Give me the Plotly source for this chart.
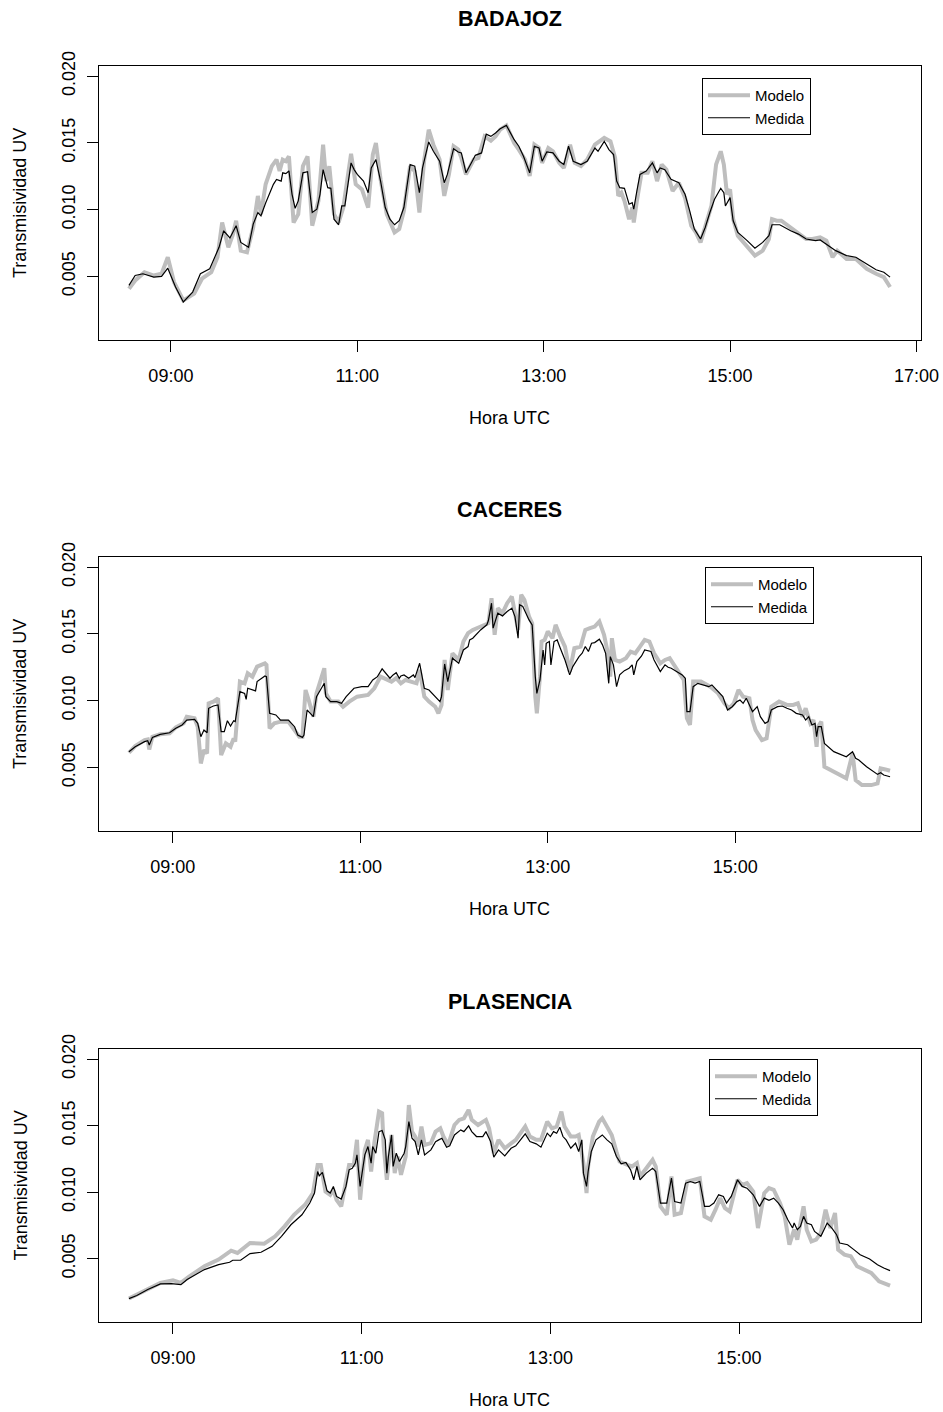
import pandas as pd
import plotly.graph_objects as go

### datos (hora UTC, transmisividad UV)

# BADAJOZ
badajoz_t_medida = [
    "08:33", "08:37", "08:42", "08:49", "08:54", "08:58", "09:03", "09:08", "09:14", "09:19",
    "09:25", "09:31", "09:34", "09:38", "09:42", "09:45", "09:50", "09:53", "09:56", "09:58",
    "10:01", "10:06", "10:08", "10:11", "10:12", "10:14", "10:16", "10:18", "10:20", "10:22",
    "10:25", "10:28", "10:31", "10:34", "10:36", "10:38", "10:41", "10:43", "10:45", "10:48",
    "10:50", "10:52", "10:56", "10:58", "11:00", "11:04", "11:07", "11:09", "11:12", "11:15",
    "11:18", "11:21", "11:24", "11:27", "11:30", "11:34", "11:37", "11:40", "11:42", "11:46",
    "11:49", "11:53", "11:56", "11:58", "12:02", "12:05", "12:07", "12:10", "12:14", "12:16",
    "12:20", "12:23", "12:26", "12:29", "12:32", "12:36", "12:41", "12:44", "12:47", "12:51",
    "12:54", "12:57", "12:59", "13:02", "13:06", "13:10", "13:13", "13:16", "13:19", "13:24",
    "13:28", "13:33", "13:35", "13:39", "13:42", "13:45", "13:47", "13:49", "13:52", "13:55",
    "13:57", "13:58", "14:00", "14:02", "14:06", "14:10", "14:13", "14:15", "14:18", "14:22",
    "14:27", "14:31", "14:34", "14:37", "14:41", "14:44", "14:47", "14:50", "14:54", "14:56",
    "14:57", "15:00", "15:02", "15:05", "15:11", "15:16", "15:21", "15:25", "15:27", "15:32",
    "15:39", "15:44", "15:49", "15:55", "15:58", "16:03", "16:08", "16:15", "16:21", "16:28",
    "16:34", "16:39", "16:43",
]
badajoz_medida = [
    0.00433, 0.00507, 0.0052, 0.00495, 0.0050, 0.00562, 0.00421, 0.00309, 0.00383, 0.0052,
    0.00557, 0.00718, 0.00842, 0.00788, 0.0088, 0.00755, 0.00718, 0.00892, 0.00979, 0.00954,
    0.0105, 0.0119, 0.01227, 0.01214, 0.01276, 0.0127, 0.0129, 0.01115, 0.0101, 0.01066,
    0.01276, 0.01284, 0.00979, 0.01004, 0.01115, 0.013, 0.01165, 0.0116, 0.00929, 0.00887,
    0.01028, 0.01028, 0.0135, 0.013, 0.01264, 0.01214, 0.01127, 0.01313, 0.01375, 0.01214,
    0.01016, 0.00929, 0.00887, 0.00917, 0.01016, 0.01338, 0.01326, 0.01127, 0.01313, 0.01507,
    0.01437, 0.01363, 0.01202, 0.01264, 0.01457, 0.01432, 0.01425, 0.01276, 0.01363, 0.01407,
    0.01425, 0.01566, 0.01549, 0.01574, 0.01606, 0.01631, 0.01524, 0.01475, 0.014, 0.01276,
    0.01475, 0.01462, 0.01363, 0.01432, 0.01425, 0.01363, 0.01338, 0.01475, 0.01363, 0.01338,
    0.01363, 0.01462, 0.01437, 0.01512, 0.0145, 0.01413, 0.01214, 0.01165, 0.0116, 0.01041,
    0.01053, 0.01004, 0.0114, 0.01264, 0.01289, 0.0135, 0.01276, 0.01313, 0.013, 0.01227,
    0.01202, 0.01115, 0.00991, 0.00855, 0.0078, 0.00867, 0.00979, 0.01078, 0.0116, 0.01127,
    0.01028, 0.0109, 0.00917, 0.0083, 0.00768, 0.00711, 0.00755, 0.00805, 0.00887, 0.00887,
    0.00842, 0.00817, 0.0078, 0.00768, 0.00773, 0.00731, 0.00693, 0.00656, 0.00644, 0.00594,
    0.0055, 0.00532, 0.00495,
]
badajoz_t_modelo = [
    "08:33", "08:37", "08:43", "08:49", "08:54", "08:58", "09:02", "09:08", "09:15", "09:20",
    "09:26", "09:30", "09:33", "09:37", "09:40", "09:42", "09:45", "09:49", "09:53", "09:56",
    "09:58", "10:01", "10:05", "10:08", "10:10", "10:12", "10:14", "10:16", "10:19", "10:22",
    "10:25", "10:28", "10:31", "10:35", "10:38", "10:40", "10:42", "10:45", "10:48", "10:51",
    "10:56", "10:59", "11:03", "11:07", "11:10", "11:12", "11:15", "11:19", "11:24", "11:27",
    "11:30", "11:34", "11:37", "11:40", "11:43", "11:46", "11:49", "11:53", "11:56", "11:59",
    "12:02", "12:05", "12:07", "12:10", "12:15", "12:18", "12:22", "12:26", "12:29", "12:32",
    "12:36", "12:41", "12:44", "12:48", "12:51", "12:54", "12:57", "12:59", "13:03", "13:06",
    "13:10", "13:13", "13:17", "13:20", "13:24", "13:28", "13:33", "13:39", "13:43", "13:46",
    "13:48", "13:50", "13:52", "13:55", "13:57", "13:58", "14:00", "14:03", "14:07", "14:10",
    "14:13", "14:16", "14:19", "14:23", "14:27", "14:31", "14:35", "14:38", "14:41", "14:45",
    "14:48", "14:51", "14:54", "14:56", "14:58", "15:00", "15:02", "15:05", "15:11", "15:16",
    "15:21", "15:25", "15:27", "15:30", "15:33", "15:39", "15:44", "15:49", "15:53", "15:58",
    "16:02", "16:06", "16:09", "16:15", "16:21", "16:28", "16:34", "16:39", "16:43",
]
badajoz_modelo = [
    0.00408, 0.0047, 0.00532, 0.00507, 0.0052, 0.00644, 0.00458, 0.00321, 0.00371, 0.00483,
    0.00532, 0.00644, 0.00904, 0.00718, 0.00817, 0.00917, 0.00693, 0.00681, 0.00867, 0.01103,
    0.00966, 0.0119, 0.01326, 0.01375, 0.01289, 0.01375, 0.01363, 0.014, 0.00904, 0.00966,
    0.01326, 0.014, 0.0088, 0.01066, 0.01487, 0.01214, 0.01326, 0.00966, 0.00904, 0.01016,
    0.01418, 0.0119, 0.01152, 0.01016, 0.01413, 0.015, 0.01227, 0.00966, 0.0083, 0.00855,
    0.00991, 0.01326, 0.01289, 0.00979, 0.01363, 0.01599, 0.01487, 0.01375, 0.01103, 0.01264,
    0.01475, 0.0145, 0.01388, 0.01264, 0.01375, 0.01388, 0.01549, 0.01517, 0.01549, 0.01599,
    0.01631, 0.015, 0.0145, 0.01375, 0.01252, 0.01487, 0.01462, 0.0135, 0.01462, 0.01437,
    0.0135, 0.01313, 0.01487, 0.0135, 0.01326, 0.01375, 0.01487, 0.01537, 0.01512, 0.01388,
    0.01103, 0.01127, 0.01066, 0.00929, 0.01016, 0.00904, 0.01066, 0.01276, 0.01276, 0.01363,
    0.01214, 0.01338, 0.013, 0.0114, 0.01202, 0.0109, 0.0088, 0.0083, 0.00755, 0.00904,
    0.01028, 0.01338, 0.01437, 0.01338, 0.01115, 0.01152, 0.00929, 0.00805, 0.00718, 0.00656,
    0.00693, 0.0078, 0.00929, 0.00917, 0.00917, 0.00867, 0.0083, 0.0078, 0.0078, 0.00793,
    0.00768, 0.00644, 0.00693, 0.00631, 0.00631, 0.00557, 0.0052, 0.00495, 0.00421,
]

# CACERES
caceres_t_medida = [
    "08:32", "08:36", "08:42", "08:44", "08:45", "08:47", "08:52", "08:58", "09:02", "09:06",
    "09:09", "09:14", "09:16", "09:18", "09:20", "09:22", "09:23", "09:26", "09:29", "09:31",
    "09:33", "09:35", "09:37", "09:39", "09:40", "09:43", "09:46", "09:47", "09:48", "09:51",
    "09:53", "09:54", "09:59", "10:00", "10:02", "10:06", "10:09", "10:14", "10:18", "10:20",
    "10:23", "10:24", "10:26", "10:27", "10:30", "10:32", "10:37", "10:38", "10:41", "10:45",
    "10:48", "10:51", "10:56", "11:01", "11:05", "11:08", "11:11", "11:14", "11:17", "11:19",
    "11:21", "11:23", "11:25", "11:26", "11:28", "11:31", "11:34", "11:35", "11:38", "11:41",
    "11:44", "11:48", "11:51", "11:52", "11:54", "11:56", "11:59", "12:03", "12:06", "12:09",
    "12:10", "12:12", "12:14", "12:17", "12:21", "12:22", "12:24", "12:25", "12:28", "12:31",
    "12:34", "12:37", "12:39", "12:41", "12:42", "12:44", "12:48", "12:50", "12:52", "12:53",
    "12:55", "12:57", "12:58", "12:59", "13:01", "13:02", "13:04", "13:06", "13:08", "13:11",
    "13:14", "13:16", "13:20", "13:22", "13:24", "13:26", "13:28", "13:30", "13:33", "13:35",
    "13:37", "13:39", "13:40", "13:42", "13:44", "13:46", "13:49", "13:52", "13:54", "13:55",
    "13:57", "14:00", "14:02", "14:06", "14:08", "14:12", "14:15", "14:17", "14:19", "14:23",
    "14:26", "14:28", "14:29", "14:31", "14:33", "14:36", "14:40", "14:43", "14:45", "14:48",
    "14:52", "14:55", "14:58", "15:01", "15:03", "15:05", "15:07", "15:11", "15:14", "15:16",
    "15:19", "15:21", "15:23", "15:27", "15:30", "15:33", "15:36", "15:39", "15:43", "15:45",
    "15:47", "15:49", "15:51", "15:52", "15:53", "15:55", "15:57", "16:03", "16:11", "16:15",
    "16:17", "16:19", "16:24", "16:31", "16:33", "16:35", "16:39",
]
caceres_medida = [
    0.00618, 0.00655, 0.00693, 0.007, 0.00668, 0.00725, 0.00748, 0.0076, 0.00793, 0.00818,
    0.00855, 0.0086, 0.0083, 0.0073, 0.0078, 0.0076, 0.00943, 0.0096, 0.00968, 0.00768,
    0.00768, 0.0085, 0.0081, 0.0085, 0.00843, 0.01068, 0.01055, 0.0101, 0.01093, 0.0108,
    0.01073, 0.01143, 0.01185, 0.0118, 0.00905, 0.00893, 0.00855, 0.00855, 0.00805, 0.00743,
    0.00725, 0.00743, 0.0093, 0.00918, 0.0088, 0.0103, 0.0113, 0.0103, 0.00993, 0.00993,
    0.0098, 0.0103, 0.01093, 0.01105, 0.01105, 0.01155, 0.0118, 0.01238, 0.01193, 0.01168,
    0.01193, 0.0121, 0.01168, 0.01185, 0.01193, 0.01168, 0.01193, 0.01173, 0.0128, 0.01093,
    0.0108, 0.0103, 0.00993, 0.0103, 0.01275, 0.01143, 0.01318, 0.0128, 0.0138, 0.01405,
    0.01455, 0.01468, 0.01493, 0.0153, 0.01568, 0.016, 0.0173, 0.01543, 0.01655, 0.01635,
    0.01668, 0.01693, 0.0163, 0.01468, 0.01718, 0.01705, 0.01605, 0.01568, 0.0118, 0.01055,
    0.01155, 0.0138, 0.01268, 0.0143, 0.01443, 0.01268, 0.01443, 0.01455, 0.01393, 0.01305,
    0.01193, 0.01255, 0.0133, 0.01355, 0.01405, 0.01368, 0.0143, 0.01435, 0.0146, 0.01418,
    0.01355, 0.0113, 0.0133, 0.01268, 0.01105, 0.01193, 0.01225, 0.01243, 0.01268, 0.01193,
    0.01293, 0.01335, 0.0138, 0.01368, 0.01305, 0.01218, 0.01268, 0.0125, 0.01243, 0.01218,
    0.01193, 0.01168, 0.00918, 0.00918, 0.01105, 0.0113, 0.01118, 0.01105, 0.01118, 0.0108,
    0.0103, 0.0093, 0.00955, 0.00993, 0.01005, 0.0098, 0.01018, 0.00918, 0.00955, 0.0088,
    0.0083, 0.00843, 0.0093, 0.00955, 0.0096, 0.00943, 0.0093, 0.00905, 0.00893, 0.00855,
    0.0088, 0.00818, 0.0083, 0.0073, 0.00805, 0.00805, 0.0068, 0.00618, 0.0058, 0.00618,
    0.00568, 0.00555, 0.00505, 0.00448, 0.0046, 0.00443, 0.0043,
]
caceres_t_modelo = [
    "08:32", "08:36", "08:42", "08:44", "08:45", "08:47", "08:52", "08:58", "09:02", "09:07",
    "09:09", "09:14", "09:16", "09:18", "09:20", "09:22", "09:23", "09:26", "09:29", "09:31",
    "09:34", "09:37", "09:39", "09:40", "09:43", "09:46", "09:48", "09:51", "09:54", "09:59",
    "10:00", "10:02", "10:05", "10:09", "10:14", "10:18", "10:21", "10:23", "10:25", "10:27",
    "10:30", "10:32", "10:37", "10:38", "10:41", "10:46", "10:49", "10:53", "10:58", "11:05",
    "11:09", "11:13", "11:17", "11:20", "11:23", "11:26", "11:29", "11:33", "11:36", "11:38",
    "11:41", "11:44", "11:48", "11:50", "11:52", "11:54", "11:56", "11:59", "12:03", "12:06",
    "12:09", "12:12", "12:15", "12:19", "12:22", "12:24", "12:26", "12:28", "12:31", "12:34",
    "12:37", "12:39", "12:41", "12:43", "12:45", "12:48", "12:50", "12:52", "12:53", "12:55",
    "12:56", "12:58", "13:00", "13:03", "13:05", "13:08", "13:11", "13:14", "13:17", "13:21",
    "13:24", "13:27", "13:30", "13:33", "13:36", "13:38", "13:40", "13:41", "13:43", "13:46",
    "13:50", "13:53", "13:56", "13:59", "14:02", "14:05", "14:08", "14:12", "14:15", "14:18",
    "14:23", "14:27", "14:29", "14:31", "14:33", "14:38", "14:44", "14:49", "14:53", "14:56",
    "14:59", "15:02", "15:05", "15:09", "15:11", "15:13", "15:17", "15:20", "15:23", "15:28",
    "15:33", "15:37", "15:40", "15:43", "15:45", "15:48", "15:50", "15:52", "15:53", "15:55",
    "15:57", "16:03", "16:11", "16:15", "16:17", "16:21", "16:27", "16:31", "16:33", "16:36",
    "16:39",
]
caceres_modelo = [
    0.0061, 0.0066, 0.00705, 0.0071, 0.00635, 0.0073, 0.00748, 0.00755, 0.008, 0.0083,
    0.0088, 0.00868, 0.00805, 0.0053, 0.0063, 0.00605, 0.0098, 0.00993, 0.01018, 0.00593,
    0.0068, 0.00655, 0.00718, 0.00693, 0.01143, 0.0113, 0.01205, 0.0118, 0.01255, 0.0128,
    0.01268, 0.00793, 0.0083, 0.00843, 0.00843, 0.0078, 0.0073, 0.0073, 0.0108, 0.01005,
    0.0088, 0.01055, 0.01243, 0.01055, 0.00993, 0.00993, 0.00955, 0.00993, 0.0103, 0.01043,
    0.01093, 0.0118, 0.01155, 0.01143, 0.01168, 0.0113, 0.01155, 0.01143, 0.0113, 0.0123,
    0.0103, 0.00993, 0.00955, 0.00905, 0.00968, 0.01305, 0.0108, 0.01355, 0.01305, 0.01443,
    0.01505, 0.0153, 0.01543, 0.01568, 0.0158, 0.01768, 0.01493, 0.01693, 0.01655, 0.0173,
    0.0178, 0.01655, 0.0153, 0.01793, 0.01755, 0.0163, 0.0158, 0.0103, 0.00905, 0.0118,
    0.01443, 0.01455, 0.01518, 0.01468, 0.01568, 0.0148, 0.01405, 0.01218, 0.01393, 0.01405,
    0.0153, 0.01543, 0.01555, 0.01593, 0.01493, 0.0138, 0.0118, 0.01468, 0.01305, 0.01293,
    0.01318, 0.01368, 0.01355, 0.01405, 0.01455, 0.01443, 0.01355, 0.0128, 0.01305, 0.01318,
    0.0123, 0.01155, 0.00868, 0.00818, 0.01143, 0.01143, 0.01105, 0.01055, 0.0098, 0.00943,
    0.0098, 0.0108, 0.0103, 0.01018, 0.00855, 0.0078, 0.00705, 0.00718, 0.00955, 0.00993,
    0.00968, 0.00968, 0.0098, 0.0088, 0.00943, 0.0083, 0.00855, 0.00655, 0.00805, 0.00843,
    0.00505, 0.00468, 0.00418, 0.00605, 0.00405, 0.00368, 0.00368, 0.0038, 0.00493, 0.00485,
    0.00475,
]

# PLASENCIA
plasencia_t_medida = [
    "08:32", "08:37", "08:44", "08:52", "08:59", "09:05", "09:09", "09:20", "09:29", "09:36",
    "09:38", "09:43", "09:49", "09:56", "10:03", "10:09", "10:15", "10:22", "10:27", "10:30",
    "10:32", "10:33", "10:35", "10:38", "10:40", "10:42", "10:44", "10:47", "10:50", "10:52",
    "10:54", "10:56", "10:57", "10:59", "11:02", "11:04", "11:06", "11:07", "11:09", "11:11",
    "11:13", "11:15", "11:16", "11:17", "11:19", "11:20", "11:22", "11:24", "11:27", "11:28",
    "11:30", "11:32", "11:34", "11:36", "11:38", "11:40", "11:44", "11:47", "11:49", "11:51",
    "11:54", "11:56", "11:59", "12:03", "12:05", "12:08", "12:10", "12:13", "12:17", "12:19",
    "12:22", "12:24", "12:27", "12:31", "12:35", "12:38", "12:41", "12:44", "12:47", "12:51",
    "12:54", "12:58", "13:00", "13:02", "13:04", "13:06", "13:08", "13:10", "13:13", "13:16",
    "13:18", "13:20", "13:21", "13:23", "13:24", "13:26", "13:29", "13:33", "13:36", "13:39",
    "13:42", "13:45", "13:48", "13:51", "13:53", "13:55", "13:57", "14:01", "14:05", "14:07",
    "14:10", "14:14", "14:17", "14:19", "14:23", "14:26", "14:29", "14:32", "14:35", "14:38",
    "14:41", "14:44", "14:47", "14:50", "14:52", "14:55", "14:59", "15:02", "15:05", "15:09",
    "15:13", "15:16", "15:19", "15:22", "15:25", "15:28", "15:31", "15:34", "15:35", "15:37",
    "15:39", "15:41", "15:43", "15:46", "15:48", "15:52", "15:54", "15:56", "15:59", "16:02",
    "16:04", "16:09", "16:13", "16:17", "16:23", "16:28", "16:32", "16:36",
]
plasencia_medida = [
    0.002, 0.00223, 0.00268, 0.0031, 0.00313, 0.00305, 0.00343, 0.00418, 0.00455, 0.00473,
    0.00488, 0.00488, 0.00538, 0.00548, 0.00593, 0.00668, 0.00755, 0.0083, 0.00918, 0.00993,
    0.01155, 0.01123, 0.01148, 0.0101, 0.00993, 0.01043, 0.00968, 0.00948, 0.01043, 0.01168,
    0.0118, 0.01218, 0.0128, 0.01043, 0.0128, 0.01343, 0.01218, 0.01343, 0.01293, 0.01455,
    0.01463, 0.01393, 0.01143, 0.01268, 0.0143, 0.01193, 0.01293, 0.0123, 0.01293, 0.01343,
    0.0153, 0.01405, 0.0138, 0.0128, 0.01393, 0.0128, 0.01318, 0.0138, 0.01393, 0.01405,
    0.01338, 0.01348, 0.0143, 0.01468, 0.01455, 0.01498, 0.01455, 0.01418, 0.01418, 0.01455,
    0.0138, 0.01263, 0.01318, 0.01273, 0.0133, 0.01348, 0.01393, 0.01438, 0.0138, 0.01363,
    0.01338, 0.01443, 0.01418, 0.01455, 0.01443, 0.01488, 0.01418, 0.01393, 0.0133, 0.01368,
    0.01305, 0.01393, 0.01143, 0.01043, 0.01155, 0.01305, 0.01393, 0.0143, 0.01393, 0.01363,
    0.01268, 0.01213, 0.01223, 0.01168, 0.01093, 0.01193, 0.01093, 0.01143, 0.0118, 0.01155,
    0.00918, 0.00918, 0.01105, 0.0093, 0.00918, 0.01068, 0.0108, 0.01068, 0.0108, 0.00893,
    0.00893, 0.00918, 0.0098, 0.00968, 0.00918, 0.00968, 0.01093, 0.01043, 0.0103, 0.0098,
    0.00893, 0.00955, 0.00938, 0.00955, 0.00918, 0.00868, 0.00793, 0.0073, 0.00768, 0.00718,
    0.00743, 0.00818, 0.00768, 0.00755, 0.00705, 0.00668, 0.00718, 0.00768, 0.0073, 0.0068,
    0.00618, 0.00605, 0.00568, 0.0053, 0.00498, 0.00455, 0.0043, 0.0041,
]
plasencia_t_modelo = [
    "08:32", "08:37", "08:44", "08:52", "09:00", "09:05", "09:10", "09:20", "09:29", "09:37",
    "09:41", "09:49", "09:58", "10:05", "10:11", "10:17", "10:24", "10:29", "10:32", "10:34",
    "10:37", "10:40", "10:42", "10:44", "10:47", "10:50", "10:52", "10:55", "10:57", "10:59",
    "11:02", "11:04", "11:06", "11:08", "11:11", "11:13", "11:14", "11:16", "11:19", "11:21",
    "11:23", "11:25", "11:28", "11:30", "11:32", "11:34", "11:36", "11:38", "11:40", "11:44",
    "11:47", "11:50", "11:52", "11:55", "11:59", "12:02", "12:05", "12:08", "12:10", "12:14",
    "12:19", "12:21", "12:24", "12:27", "12:31", "12:38", "12:41", "12:44", "12:47", "12:51",
    "12:54", "12:58", "13:01", "13:04", "13:07", "13:09", "13:13", "13:16", "13:18", "13:21",
    "13:23", "13:24", "13:27", "13:31", "13:33", "13:36", "13:39", "13:42", "13:44", "13:49",
    "13:52", "13:55", "13:57", "14:01", "14:05", "14:07", "14:10", "14:14", "14:17", "14:19",
    "14:23", "14:27", "14:31", "14:35", "14:38", "14:42", "14:45", "14:48", "14:51", "14:54",
    "14:59", "15:02", "15:05", "15:09", "15:12", "15:16", "15:19", "15:22", "15:26", "15:29",
    "15:32", "15:35", "15:37", "15:41", "15:43", "15:46", "15:49", "15:52", "15:55", "15:58",
    "16:01", "16:03", "16:07", "16:11", "16:15", "16:19", "16:24", "16:29", "16:36",
]
plasencia_modelo = [
    0.002, 0.00228, 0.00273, 0.00318, 0.00338, 0.00318, 0.00363, 0.00443, 0.00493, 0.0056,
    0.00543, 0.00618, 0.00613, 0.00668, 0.00743, 0.0083, 0.00905, 0.00993, 0.01205, 0.01205,
    0.01005, 0.0098, 0.01018, 0.00943, 0.00893, 0.01068, 0.01205, 0.01205, 0.01393, 0.00943,
    0.01318, 0.01393, 0.01155, 0.01368, 0.01605, 0.01593, 0.01343, 0.01093, 0.0143, 0.01143,
    0.01268, 0.0113, 0.01268, 0.01655, 0.01455, 0.01418, 0.01343, 0.01493, 0.01355, 0.01368,
    0.01455, 0.0148, 0.01418, 0.01355, 0.01505, 0.01543, 0.01555, 0.01618, 0.01543, 0.01505,
    0.01543, 0.0148, 0.01293, 0.01393, 0.0133, 0.01393, 0.01443, 0.01493, 0.01418, 0.01393,
    0.01393, 0.0153, 0.0148, 0.01493, 0.01605, 0.01493, 0.01418, 0.01418, 0.0143, 0.01218,
    0.00993, 0.01193, 0.01418, 0.0153, 0.01555, 0.01493, 0.0143, 0.01305, 0.0123, 0.01205,
    0.01193, 0.01218, 0.01118, 0.0118, 0.01243, 0.01193, 0.00893, 0.0083, 0.01118, 0.0083,
    0.00843, 0.0108, 0.01093, 0.01105, 0.00818, 0.00793, 0.00868, 0.00955, 0.0088, 0.00855,
    0.01093, 0.01055, 0.01068, 0.01005, 0.0073, 0.00993, 0.0103, 0.01018, 0.00918, 0.00818,
    0.00605, 0.00718, 0.00643, 0.00893, 0.00718, 0.0063, 0.00643, 0.00693, 0.00868, 0.0073,
    0.00843, 0.00568, 0.0053, 0.00518, 0.00443, 0.00418, 0.00393, 0.0033, 0.00298,
]

estaciones = ["BADAJOZ", "CACERES", "PLASENCIA"]
series = {
    "BADAJOZ": (badajoz_t_modelo, badajoz_modelo, badajoz_t_medida, badajoz_medida),
    "CACERES": (caceres_t_modelo, caceres_modelo, caceres_t_medida, caceres_medida),
    "PLASENCIA": (plasencia_t_modelo, plasencia_modelo, plasencia_t_medida, plasencia_medida),
}
hora_ticks = ["09:00", "11:00", "13:00", "15:00", "17:00"]
y_ticks = [0.005, 0.010, 0.015, 0.020]
y_lim = (0.001, 0.020)

### layout general (pixeles de la figura original)
W, H = 943, 1412
FONT = "Liberation Sans, Arial, Helvetica, sans-serif"
box_x = (98.5, 920.5)
box_y = [(66, 340), (557, 831), (1049, 1322)]
leyenda_pos = [(702, 78), (705, 567), (709, 1059)]
dia = "2015-06-20 "


def to_dt(horas):
    return pd.to_datetime([dia + h for h in horas])


def r_range(lo, hi):
    # R amplia el rango un 4 %
    d = hi - lo
    return lo - 0.04 * d, hi + 0.04 * d


fig = go.Figure()
annotations = []
layout = {}

for i, est in enumerate(estaciones):
    t_mod, v_mod, t_med, v_med = series[est]
    assert len(t_mod) == len(v_mod) and len(t_med) == len(v_med)
    n = "" if i == 0 else str(i + 1)
    xa, ya, lg = "x" + n, "y" + n, "legend" + n

    x_mod = to_dt(t_mod)
    x_med = to_dt(t_med)
    fig.add_trace(go.Scatter(x=x_mod, y=v_mod, mode="lines", name="Modelo",
                             line=dict(color="#BEBEBE", width=4),
                             xaxis=xa, yaxis=ya, legend=lg))
    fig.add_trace(go.Scatter(x=x_med, y=v_med, mode="lines", name="Medida",
                             line=dict(color="black", width=1.2),
                             xaxis=xa, yaxis=ya, legend=lg))

    tmin = min(x_mod.min(), x_med.min())
    tmax = max(x_mod.max(), x_med.max())
    x0, x1 = r_range(tmin, tmax)
    y0, y1 = r_range(*y_lim)

    top, bot = box_y[i]
    dom_y = [1 - bot / H, 1 - top / H]
    dom_x = [box_x[0] / W, box_x[1] / W]
    ticks = [t for t in to_dt(hora_ticks) if x0 <= t <= x1]

    eje = dict(showline=True, mirror=True, linecolor="black", linewidth=1,
               ticks="outside", ticklen=11, tickwidth=1, tickcolor="black",
               showgrid=False, zeroline=False, automargin=False,
               tickfont=dict(family=FONT, size=18, color="black"))
    layout["xaxis" + n] = dict(eje, domain=dom_x, range=[x0, x1], type="date",
                               tickvals=ticks, tickformat="%H:%M",
                               anchor=ya, ticklabelstandoff=8)
    layout["yaxis" + n] = dict(eje, domain=dom_y, range=[y0, y1],
                               tickvals=y_ticks, tickformat=".3f", tickangle=-90,
                               anchor=xa, ticklabelstandoff=4)

    lx, ly = leyenda_pos[i]
    layout[lg] = dict(x=lx / W, y=1 - ly / H, xanchor="left", yanchor="top",
                      bordercolor="black", borderwidth=1, bgcolor="white",
                      font=dict(family=FONT, size=15, color="black"),
                      itemwidth=42, tracegroupgap=0)

    xc = (box_x[0] + box_x[1]) / 2 / W
    annotations.append(dict(text="<b>" + est + "</b>", x=xc, y=1 - (top - 47) / H,
                            xref="paper", yref="paper", showarrow=False,
                            xanchor="center", yanchor="middle",
                            font=dict(family=FONT, size=21.5, color="black")))
    annotations.append(dict(text="Hora UTC", x=xc, y=1 - (bot + 78) / H,
                            xref="paper", yref="paper", showarrow=False,
                            xanchor="center", yanchor="middle",
                            font=dict(family=FONT, size=18, color="black")))
    annotations.append(dict(text="Transmisividad UV", x=20 / W, y=1 - (top + bot) / 2 / H,
                            xref="paper", yref="paper", showarrow=False, textangle=-90,
                            xanchor="center", yanchor="middle",
                            font=dict(family=FONT, size=18, color="black")))

fig.update_layout(template="none", width=W, height=H,
                  margin=dict(l=0, r=0, t=0, b=0, autoexpand=False),
                  plot_bgcolor="white", paper_bgcolor="white",
                  annotations=annotations, **layout)

# quitar el margen del body para que la figura empiece en (0, 0)
fig.write_html("out.html", config={"displayModeBar": False},
               post_script="document.body.style.margin='0px';")
